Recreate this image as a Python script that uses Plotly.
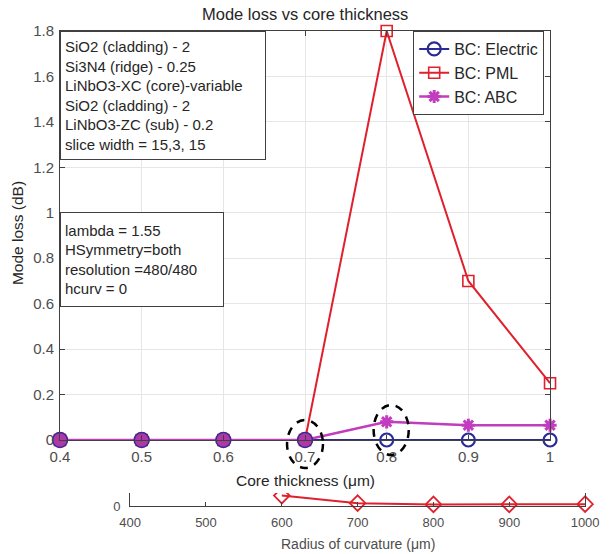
import plotly.graph_objects as go

# ---------------- data ----------------
core_thickness = [0.4, 0.5, 0.6, 0.7, 0.8, 0.9, 1.0]
loss_electric = [0, 0, 0, 0, 0, 0, 0]
loss_pml = [0, 0, 0, 0, 1.8, 0.7, 0.25]
loss_abc = [0, 0, 0, 0, 0.08, 0.065, 0.065]

radius = [600, 700, 800, 900, 1000]
loss_radius = [0.8, 0.22, 0.12, 0.12, 0.14]

x_ticks = [0.4, 0.5, 0.6, 0.7, 0.8, 0.9, 1.0]
x_ticktext = ["0.4", "0.5", "0.6", "0.7", "0.8", "0.9", "1"]
y_ticks = [0, 0.2, 0.4, 0.6, 0.8, 1.0, 1.2, 1.4, 1.6, 1.8]
y_ticktext = ["0", "0.2", "0.4", "0.6", "0.8", "1", "1.2", "1.4", "1.6", "1.8"]
r_ticks = [400, 500, 600, 700, 800, 900, 1000]
r_ticktext = ["400", "500", "600", "700", "800", "900", "1000"]

box1_lines = ["SiO2 (cladding) - 2", "Si3N4 (ridge) - 0.25", "LiNbO3-XC (core)-variable",
              "SiO2 (cladding) - 2", "LiNbO3-ZC (sub) - 0.2", "slice width = 15,3, 15"]
box2_lines = ["lambda = 1.55", "HSymmetry=both", "resolution =480/480", "hcurv = 0"]

# highlighted points (dashed ellipses): (x0, x1, y0, y1) in data units
highlights = [(0.678, 0.722, -0.123, 0.088), (0.784, 0.827, -0.066, 0.154)]

# ---------------- layout geometry ----------------
W, H = 613, 554
ML, MR, MT, MB = 60, 10, 31, 48
PW, PH = W - ML - MR, H - MT - MB


def px_x(p):
    return (p - ML) / PW


def px_y(p):
    return (H - MB - p) / PH


X_RANGE = [0.4, 1.0]
Y_RANGE = [0, 1.8]
x_dom = [0, px_x(563)]
y_dom = [px_y(440), 1]
x2_dom = [px_x(132), px_x(599)]
y2_dom = [0, px_y(493)]


def dx(v):
    return x_dom[0] + (v - X_RANGE[0]) / (X_RANGE[1] - X_RANGE[0]) * (x_dom[1] - x_dom[0])


def dy(v):
    return y_dom[0] + (v - Y_RANGE[0]) / (Y_RANGE[1] - Y_RANGE[0]) * (y_dom[1] - y_dom[0])


FONT = "Liberation Sans, Arial, sans-serif"
TXT = "#262626"
TICK = "#4d4d4d"
NAVY = "#2b2b96"
RED = "#e0202c"
MAG = "#c13cbf"

fig = go.Figure()

fig.add_trace(go.Scatter(
    x=core_thickness, y=loss_electric, name="BC: Electric", mode="lines+markers",
    line=dict(color=NAVY, width=2),
    marker=dict(symbol="circle-open", size=13, color=NAVY, line=dict(width=2.2)),
    cliponaxis=False))
fig.add_trace(go.Scatter(
    x=core_thickness, y=loss_pml, name="BC: PML", mode="lines+markers",
    line=dict(color=RED, width=2),
    marker=dict(symbol="square-open", size=11, color=RED, line=dict(width=1.6)),
    cliponaxis=False))
fig.add_trace(go.Scatter(
    x=core_thickness, y=loss_abc, name="BC: ABC", mode="lines+markers",
    line=dict(color=MAG, width=2.5),
    marker=dict(symbol="asterisk-open", size=11, color=MAG, line=dict(width=3, color=MAG)),
    cliponaxis=False))
# overlapping filled markers where all boundary conditions coincide
fig.add_trace(go.Scatter(
    x=core_thickness[:4], y=loss_abc[:4], mode="markers", showlegend=False,
    marker=dict(symbol="circle", size=15, color="#ad38a6", line=dict(width=1.5, color="#3a2a8f")),
    cliponaxis=False, hoverinfo="skip"))

fig.add_trace(go.Scatter(
    x=radius, y=loss_radius, xaxis="x2", yaxis="y2", mode="lines+markers", showlegend=False,
    line=dict(color=RED, width=2),
    marker=dict(symbol="diamond-open", size=12, color=RED, line=dict(width=1.8)),
    cliponaxis=False))

axis_common = dict(showline=True, linecolor="#404040", linewidth=1, ticks="inside",
                   tickcolor="#404040", zeroline=False)

fig.update_layout(
    width=W, height=H,
    margin=dict(l=ML, r=MR, t=MT, b=MB, pad=0),
    paper_bgcolor="white", plot_bgcolor="white",
    font=dict(family=FONT, size=15, color=TXT),
    xaxis=dict(domain=x_dom, range=X_RANGE, tickvals=x_ticks, ticktext=x_ticktext,
               showgrid=True, gridcolor="#e6e6e6", mirror="ticks", anchor="y",
               ticklen=5, ticklabelstandoff=3,
               tickfont=dict(family=FONT, size=15, color=TICK), **axis_common),
    yaxis=dict(domain=y_dom, range=Y_RANGE, tickvals=y_ticks, ticktext=y_ticktext,
               showgrid=True, gridcolor="#e6e6e6", mirror="ticks", anchor="x",
               ticklen=5, ticklabelstandoff=2,
               tickfont=dict(family=FONT, size=15, color=TICK), **axis_common),
    xaxis2=dict(domain=x2_dom, range=[400, 1000], tickvals=r_ticks, ticktext=r_ticktext,
                showgrid=False, anchor="y2", ticklen=4, ticklabelstandoff=4,
                tickfont=dict(family=FONT, size=13, color=TICK), **axis_common),
    yaxis2=dict(domain=y2_dom, range=[0, 1], tickvals=[0], ticktext=["0"], showgrid=False,
                anchor="x2", mirror=True, ticklen=0, ticklabelstandoff=6,
                tickfont=dict(family=FONT, size=13, color=TICK), **axis_common),
    legend=dict(x=px_x(557), xanchor="right", y=1, yanchor="top",
                bgcolor="white", bordercolor="#404040", borderwidth=1,
                font=dict(family=FONT, size=16, color=TXT), tracegroupgap=0,
                itemwidth=30),
    showlegend=True,
)

annotations = [
    dict(text="Mode loss vs core thickness", x=(x_dom[0] + x_dom[1]) / 2, y=px_y(14),
         xref="paper", yref="paper", showarrow=False, font=dict(size=16.5, color=TXT),
         xanchor="center", yanchor="middle"),
    dict(text="Core thickness (\u03bcm)", x=(x_dom[0] + x_dom[1]) / 2, y=px_y(480),
         xref="paper", yref="paper", showarrow=False, font=dict(size=15.5, color=TXT),
         xanchor="center", yanchor="middle"),
    dict(text="Radius of curvature (\u03bcm)", x=px_x(366), y=px_y(544),
         xref="paper", yref="paper", showarrow=False, font=dict(size=14, color=TICK),
         xanchor="center", yanchor="middle"),
    dict(text="Mode loss (dB)", x=px_x(17), y=px_y(233), textangle=-90,
         xref="paper", yref="paper", showarrow=False, font=dict(size=15.5, color=TXT),
         xanchor="center", yanchor="middle"),
    dict(text="<br>".join(box1_lines), x=px_x(60), y=px_y(31), xref="paper", yref="paper",
         showarrow=False, xanchor="left", yanchor="top", align="left", valign="middle",
         width=196, height=119, borderpad=4, bordercolor="#404040", borderwidth=1,
         bgcolor="white", font=dict(size=15, color=TXT)),
    dict(text="<br>".join(box2_lines), x=px_x(60), y=px_y(212), xref="paper", yref="paper",
         showarrow=False, xanchor="left", yanchor="top", align="left", valign="middle",
         width=154, height=85, borderpad=4, bordercolor="#404040", borderwidth=1,
         bgcolor="white", font=dict(size=15, color=TXT)),
]
fig.update_layout(annotations=annotations)

shapes = []
for (x0, x1, y0, y1) in highlights:
    shapes.append(dict(type="circle", xref="paper", yref="paper",
                       x0=dx(x0), x1=dx(x1), y0=dy(y0), y1=dy(y1),
                       line=dict(color="black", width=2.5, dash="8px,7px"), layer="above"))
# white mask hiding the clipped upper part of the first radius marker
shapes.append(dict(type="rect", xref="paper", yref="paper",
                   x0=px_x(278), x1=px_x(297), y0=px_y(493), y1=px_y(486),
                   fillcolor="white", line=dict(width=0), layer="above"))
fig.update_layout(shapes=shapes)

fig.write_html("out.html")
